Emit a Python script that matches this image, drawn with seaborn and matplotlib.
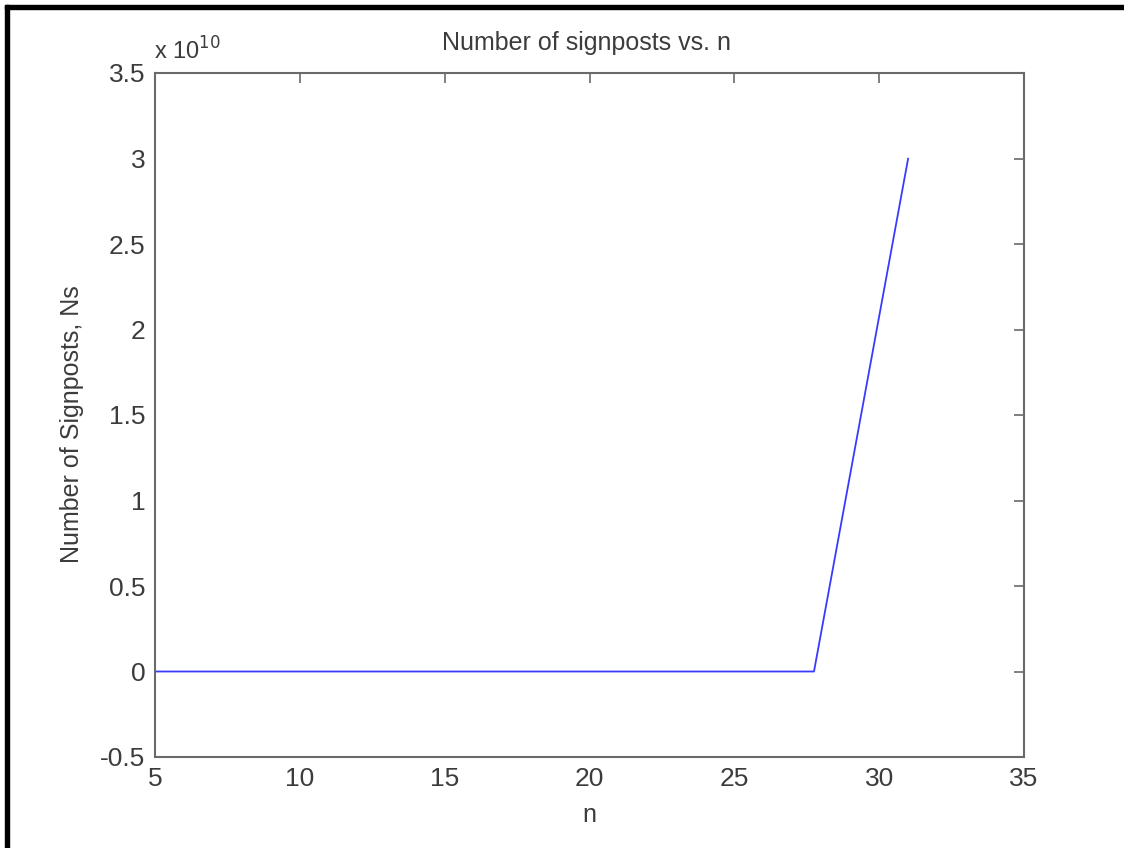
import matplotlib
matplotlib.use("Agg")
import matplotlib.pyplot as plt
from matplotlib.patches import Rectangle
from matplotlib.ticker import FuncFormatter
import numpy as np
import pandas as pd
import seaborn as sns

# data
n_values = [5.0, 8.25, 11.5, 14.75, 18.0, 21.25, 24.5, 27.75, 31.0]
signposts = [0.0, 0.0, 0.0, 0.0, 0.0, 0.0, 0.0, 0.0, 3.0e10]
x_ticks = [5, 10, 15, 20, 25, 30, 35]
y_ticks = [-0.5e10, 0, 0.5e10, 1.0e10, 1.5e10, 2.0e10, 2.5e10, 3.0e10, 3.5e10]

TEXT = "#3c3c3c"
AXIS = "#6a6a6a"
W, H = 1124, 848

sns.set_style("white")
plt.rcParams["font.family"] = ["Liberation Sans", "DejaVu Sans"]

df = pd.DataFrame({"n": n_values, "Ns": signposts})

fig = plt.figure(figsize=(W / 100, H / 100), dpi=100)
ax = fig.add_axes([155 / W, 1 - 757 / H, (1024 - 155) / W, (757 - 73) / H])

sns.lineplot(data=df, x="n", y="Ns", ax=ax, color="#3a3aff", linewidth=1.3)

ax.set_xlim(5, 35)
ax.set_ylim(-0.5e10, 3.5e10)
ax.set_xticks(x_ticks)
ax.set_yticks(y_ticks)
ax.yaxis.set_major_formatter(FuncFormatter(lambda v, _: f"{v / 1e10:g}"))
ax.tick_params(direction="in", length=7, width=1.2, color=AXIS,
               labelsize=19, labelcolor=TEXT, top=True, right=True, pad=7)
for sp in ax.spines.values():
    sp.set_color(AXIS)
    sp.set_linewidth(1.5)
ax.set_xlabel("")
ax.set_ylabel("")

# MATLAB-style labels and exponent
fig.text(586 / W, 1 - 50 / H, "Number of signposts vs. n", ha="center", va="baseline",
         fontsize=18, color=TEXT)
fig.text(589 / W, 1 - 822 / H, "n", ha="center", va="baseline", fontsize=18, color=TEXT)
fig.text(72 / W, 1 - 424 / H, "Number of Signposts, Ns", ha="center", va="center",
         rotation=90, fontsize=18, color=TEXT)
fig.text(154 / W, 1 - 60 / H, r"x 10$^{10}$", ha="left", va="baseline",
         fontsize=17, color=TEXT)

# black frame on the left and top edges
fig.patches.append(Rectangle((5 / W, 0), 4 / W, 1 - 5 / H, transform=fig.transFigure,
                             color="black", zorder=10))
fig.patches.append(Rectangle((5 / W, 1 - 9 / H), 1, 4 / H, transform=fig.transFigure,
                             color="black", zorder=10))

fig.savefig("out.png", dpi=100)
